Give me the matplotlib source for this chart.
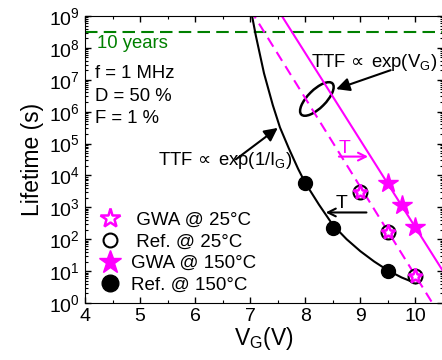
import matplotlib
matplotlib.use('Agg')
import matplotlib.pyplot as plt
from matplotlib.patches import Ellipse
from matplotlib.transforms import IdentityTransform, ScaledTranslation
from matplotlib.ticker import MultipleLocator, LogLocator, NullFormatter

plt.rcParams['font.family'] = ['Liberation Sans', 'DejaVu Sans']
plt.rcParams['mathtext.fontset'] = 'custom'
plt.rcParams['mathtext.rm'] = 'Liberation Sans'
plt.rcParams['mathtext.it'] = 'Liberation Sans:italic'
plt.rcParams['mathtext.sf'] = 'DejaVu Sans'
plt.rcParams['mathtext.default'] = 'regular'

# measured lifetime (s) vs gate voltage (V)
vg_gwa25 = [9.0, 9.5, 10.0]
life_gwa25 = [3.1e3, 1.7e2, 7.0]
vg_ref25 = [9.0, 9.5, 10.0]
life_ref25 = [3.1e3, 1.7e2, 7.0]
vg_gwa150 = [9.5, 9.75, 10.0]
life_gwa150 = [5.6e3, 1.2e3, 2.4e2]
vg_ref150 = [8.0, 8.5, 9.5]
life_ref150 = [5.6e3, 2.3e2, 1.0e1]

# trend lines
vg_fit_ig = [6.95, 7.0, 7.1, 7.25, 7.41, 7.54, 7.7, 7.87, 8.0, 8.25, 8.5, 8.75, 9.0, 9.25, 9.5, 9.75, 10.0]
life_fit_ig = [6.3e9, 2.0e9, 2.5e8, 1.6e7, 1.6e6, 3.2e5, 7.1e4, 1.6e4, 5.8e3, 1.2e3, 2.8e2, 1.0e2,
               42, 20, 10.5, 6.3, 4.2]
vg_fit_hot = [7.5, 10.5]
life_fit_hot = [1.6e9, 1.0e1]
vg_fit_rt = [7.0, 10.4]
life_fit_rt = [1.6e9, 0.55]

ten_years = 3.15e8

fig = plt.figure(figsize=(4.42, 3.6), dpi=100)
ax = fig.add_axes([85/442, 57/360, 358/442, 287/360])
ax.set_yscale('log')
ax.set_xlim(4, 10.5)
ax.set_ylim(1, 1e9)

ax.axhline(ten_years, color='#008000', lw=1.5, ls=(0, (6, 3)))
ax.plot(vg_fit_ig, life_fit_ig, color='k', lw=1.5)
ax.plot(vg_fit_hot, life_fit_hot, color='#ff00ff', lw=1.5)
ax.plot(vg_fit_rt, life_fit_rt, color='#ff00ff', lw=1.5, ls=(0, (5, 3)))

ax.plot(vg_ref25, life_ref25, 'o', ms=10, mfc='white', mec='k', mew=1.5, ls='none', zorder=4)
ax.plot(vg_gwa25, life_gwa25, '*', ms=11, mfc='white', mec='#ff00ff', mew=1.8, ls='none', zorder=5)
ax.plot(vg_gwa150, life_gwa150, '*', ms=15, color='#ff00ff', ls='none', zorder=5)
ax.plot(vg_ref150, life_ref150, 'o', ms=10, color='k', ls='none', zorder=5)

# legend proxies
h1, = ax.plot([], [], '*', ms=15, mfc='white', mec='#ff00ff', mew=1.8)
h2, = ax.plot([], [], 'o', ms=10, mfc='white', mec='k', mew=1.5)
h3, = ax.plot([], [], '*', ms=17, color='#ff00ff')
h4, = ax.plot([], [], 'o', ms=12, color='k')
ax.legend([h1, h2, h3, h4], [' GWA @ 25°C', ' Ref. @ 25°C', 'GWA @ 150°C', 'Ref. @ 150°C'],
          loc='lower left', bbox_to_anchor=(0.044, 0.032), frameon=False, fontsize=13.5,
          handlelength=1.0, handletextpad=0.6, labelspacing=0.24, borderpad=0, borderaxespad=0)

ax.xaxis.set_major_locator(MultipleLocator(1))
ax.xaxis.set_minor_locator(MultipleLocator(0.5))
ax.yaxis.set_major_locator(LogLocator(base=10, numticks=20))
ax.yaxis.set_minor_locator(LogLocator(base=10, subs=range(2, 10), numticks=20))
ax.yaxis.set_minor_formatter(NullFormatter())
ax.tick_params(which='both', direction='in', top=True, right=True, labelsize=14)
ax.tick_params(which='major', length=4, width=1)
ax.tick_params(which='minor', length=2.2, width=0.8)

ax.set_xlabel('V$_G$(V)', fontsize=16.5, labelpad=0)
ax.set_ylabel('Lifetime (s)', fontsize=16.5, labelpad=4)

ax.text(4.22, 1.4e8, '10 years', color='#008000', fontsize=13.3, va='center')
ax.text(4.18, 1.6e7, 'f = 1 MHz', fontsize=13.3, va='center')
ax.text(4.18, 2.9e6, 'D = 50 %', fontsize=13.3, va='center')
ax.text(4.18, 6.3e5, 'F = 1 %', fontsize=13.3, va='center')
ax.text(8.11, 3.6e7, r'TTF$\,\mathsf{\propto}\;$exp(V$_G$)', fontsize=13.3, va='center')
ax.text(7.76, 3.0e4, r'TTF$\,\mathsf{\propto}\;$exp(1/I$_G$)', fontsize=13.3, va='center', ha='right')

ell = Ellipse((0, 0), 44, 18, angle=45, fill=False, ec='k', lw=1.8,
              transform=IdentityTransform() + ScaledTranslation(8.21, 2.5e6, ax.transData))
ax.add_patch(ell)

ax.annotate('', xy=(8.56, 5.1e6), xytext=(9.55, 2.0e7),
            arrowprops=dict(arrowstyle='-|>', color='k', lw=1.5, mutation_scale=20, shrinkA=0, shrinkB=0))
ax.annotate('', xy=(7.50, 3.1e5), xytext=(6.74, 3.2e4),
            arrowprops=dict(arrowstyle='-|>', color='k', lw=1.5, mutation_scale=20, shrinkA=0, shrinkB=0))

ax.annotate('', xy=(9.14, 3.9e4), xytext=(8.61, 3.9e4),
            arrowprops=dict(arrowstyle='->', color='#ff00ff', lw=1.5, mutation_scale=14, shrinkA=0, shrinkB=0))
ax.text(8.72, 7.0e4, 'T', color='#ff00ff', fontsize=14, ha='center', va='center')
ax.annotate('', xy=(8.37, 6.9e2), xytext=(9.11, 6.9e2),
            arrowprops=dict(arrowstyle='->', color='k', lw=1.5, mutation_scale=14, shrinkA=0, shrinkB=0))
ax.text(8.66, 1.3e3, 'T', color='k', fontsize=14, ha='center', va='center')

fig.savefig('out.png', dpi=100)
